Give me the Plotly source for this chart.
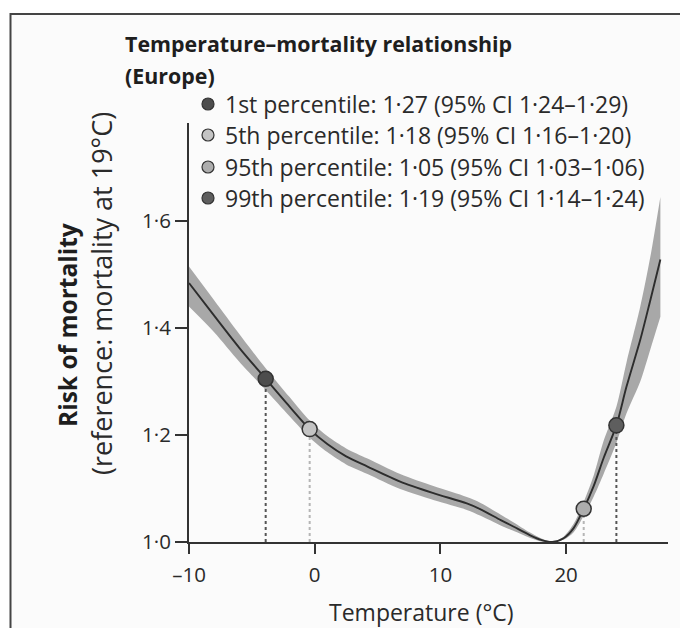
import plotly.graph_objects as go

# ---- data ----
temp = [-10, -8, -6, -3.9, -2, -0.4, 1.0, 2.5, 4.2, 6.8, 9.5, 12.1, 13.2, 14.8, 15.8, 17.1, 18.0, 18.9,
        19.8, 20.6, 21.4, 22.2, 23.0, 24.0, 24.8, 25.9, 26.7, 27.5]
rr = [1.484, 1.423, 1.363, 1.305, 1.253, 1.211, 1.183, 1.160, 1.141, 1.113, 1.091, 1.072, 1.061, 1.041,
      1.029, 1.013, 1.004, 1.000, 1.007, 1.026, 1.062, 1.105, 1.158, 1.218, 1.290, 1.378, 1.452, 1.528]
rr_lo = [1.440, 1.392, 1.337, 1.284, 1.235, 1.195, 1.168, 1.145, 1.127, 1.099, 1.078, 1.060, 1.049, 1.031,
         1.021, 1.008, 1.001, 1.000, 1.004, 1.018, 1.049, 1.085, 1.128, 1.185, 1.240, 1.300, 1.360, 1.421]
rr_hi = [1.515, 1.452, 1.389, 1.325, 1.271, 1.227, 1.198, 1.175, 1.156, 1.127, 1.104, 1.084, 1.073, 1.051,
         1.037, 1.018, 1.007, 1.000, 1.010, 1.034, 1.075, 1.125, 1.190, 1.253, 1.335, 1.440, 1.533, 1.645]

pct_labels = ["1st percentile: 1·27 (95% CI 1·24–1·29)",
              "5th percentile: 1·18 (95% CI 1·16–1·20)",
              "95th percentile: 1·05 (95% CI 1·03–1·06)",
              "99th percentile: 1·19 (95% CI 1·14–1·24)"]
pct_temp = [-3.9, -0.4, 21.4, 24.0]
pct_rr = [1.305, 1.211, 1.062, 1.218]
pct_fill = ["#4d4d4d", "#c4c4c4", "#adadad", "#5e5e5e"]
pct_drop = ["#555555", "#b5b5b5", "#b5b5b5", "#555555"]

x_ticks = [-10, 0, 10, 20]
x_ticktext = ["–10", "0", "10", "20"]
y_ticks = [1.0, 1.2, 1.4, 1.6]
y_ticktext = ["1·0", "1·2", "1·4", "1·6"]

FONT = "Open Sans"
TXT = "#2a2a2a"

# geometry helpers (pixels -> paper)
L, R, T, B = 189, 12, 123, 86
W, H = 680, 628
PW, PH = W - L - R, H - T - B
def px(x):
    return (x - L) / PW
def py(y):
    return (H - B - y) / PH

fig = go.Figure()

# CI band
fig.add_trace(go.Scatter(x=temp, y=rr_lo, mode="lines", line=dict(width=0, shape="spline", smoothing=0.8),
                         hoverinfo="skip", showlegend=False))
fig.add_trace(go.Scatter(x=temp, y=rr_hi, mode="lines", line=dict(width=0, shape="spline", smoothing=0.8),
                         fill="tonexty", fillcolor="#a8a8a8", hoverinfo="skip", showlegend=False))

# drop lines
for t, r, c in zip(pct_temp, pct_rr, pct_drop):
    fig.add_trace(go.Scatter(x=[t, t], y=[1.0, r], mode="lines",
                             line=dict(color=c, width=2, dash="3px,3px"),
                             hoverinfo="skip", showlegend=False))

# curve
fig.add_trace(go.Scatter(x=temp, y=rr, mode="lines",
                         line=dict(color="#2d2d2d", width=1.9, shape="spline", smoothing=0.8),
                         showlegend=False))

# percentile points
fig.add_trace(go.Scatter(x=pct_temp, y=pct_rr, mode="markers",
                         marker=dict(size=15, color=pct_fill, line=dict(color="#333333", width=1.5)),
                         showlegend=False))

shapes = []
annotations = []

# outer frame
shapes.append(dict(type="rect", xref="paper", yref="paper", x0=px(10.5), x1=px(720), y0=py(680), y1=py(14),
                   line=dict(color="#444444", width=2), fillcolor="#fbfbfb", layer="below"))

# legend rows
row_y = [104, 135, 167, 198]
for lab, c, yy in zip(pct_labels, pct_fill, row_y):
    shapes.append(dict(type="circle", xref="paper", yref="paper", xsizemode="pixel", ysizemode="pixel",
                       xanchor=px(208), yanchor=py(yy), x0=-6, x1=6, y0=-6, y1=6,
                       fillcolor=c, line=dict(color="#333333", width=1.2)))
    annotations.append(dict(text=lab, xref="paper", yref="paper", x=px(223), y=py(yy),
                            xanchor="left", yanchor="middle", showarrow=False,
                            font=dict(family=FONT, size=23, color=TXT)))

# titles
annotations.append(dict(text="<b>Temperature–mortality relationship</b>", xref="paper", yref="paper",
                        x=px(123), y=py(44), xanchor="left", yanchor="middle", showarrow=False,
                        font=dict(family=FONT, size=21.4, color="#1e1e1e")))
annotations.append(dict(text="<b>(Europe)</b>", xref="paper", yref="paper",
                        x=px(123), y=py(75), xanchor="left", yanchor="middle", showarrow=False,
                        font=dict(family=FONT, size=21.4, color="#1e1e1e")))
annotations.append(dict(text="<b>Risk of mortality</b>", xref="paper", yref="paper",
                        x=px(67), y=py(325), xanchor="center", yanchor="middle", textangle=-90,
                        showarrow=False, font=dict(family=FONT, size=24.5, color="#1e1e1e")))
annotations.append(dict(text="(reference: mortality at 19°C)", xref="paper", yref="paper",
                        x=px(101), y=py(294), xanchor="center", yanchor="middle", textangle=-90,
                        showarrow=False, font=dict(family=FONT, size=27, color=TXT)))
annotations.append(dict(text="Temperature (°C)", xref="paper", yref="paper",
                        x=px(421), y=py(612), xanchor="center", yanchor="middle",
                        showarrow=False, font=dict(family=FONT, size=23, color=TXT)))

fig.update_layout(
    width=W, height=H,
    margin=dict(l=L, r=R, t=T, b=B, pad=0),
    paper_bgcolor="white", plot_bgcolor="rgba(0,0,0,0)",
    shapes=shapes, annotations=annotations, showlegend=False,
)
fig.update_xaxes(range=[-10, -10 + PW / 12.57], tickvals=x_ticks, ticktext=x_ticktext,
                 showgrid=False, zeroline=False, showline=True, linecolor="#333333", linewidth=2,
                 ticks="outside", ticklen=10, tickwidth=2, tickcolor="#333333", ticklabelstandoff=3,
                 tickfont=dict(family=FONT, size=20.5, color=TXT))
fig.update_yaxes(range=[1.0, 1.0 + PH / 535], tickvals=y_ticks, ticktext=y_ticktext,
                 showgrid=False, zeroline=False, showline=True, linecolor="#333333", linewidth=2,
                 ticks="outside", ticklen=12, tickwidth=2, tickcolor="#333333",
                 tickfont=dict(family=FONT, size=20.5, color=TXT))

fig.write_html("out.html")
